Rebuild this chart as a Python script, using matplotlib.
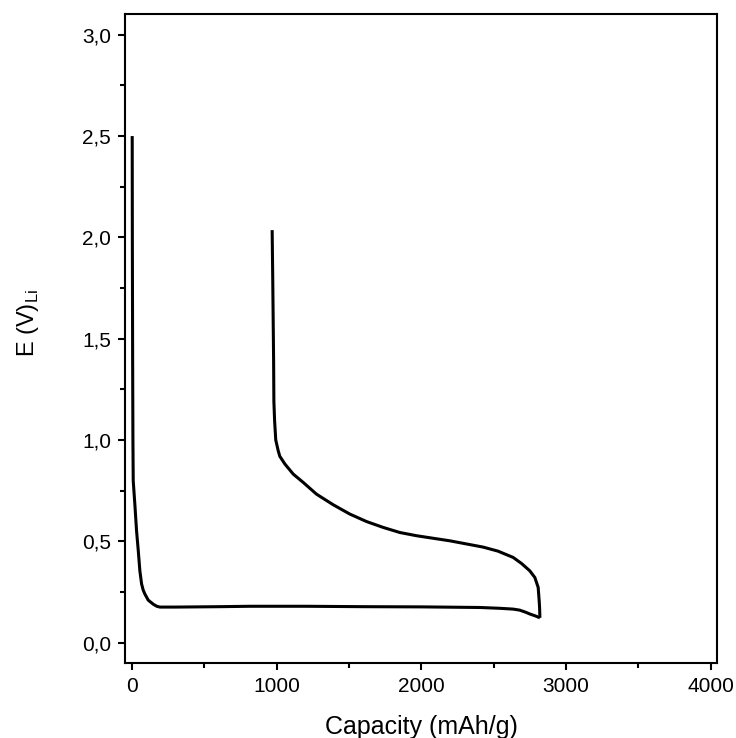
import matplotlib
matplotlib.use("Agg")
import matplotlib.pyplot as plt
from matplotlib.ticker import MultipleLocator, FuncFormatter

plt.rcParams['font.family'] = ['Liberation Sans', 'DejaVu Sans']

# discharge curve (capacity mAh/g, voltage V)
dis_cap = [0, 1, 3, 5, 7, 19, 30, 42, 53, 65, 76, 88, 111, 146, 170, 192, 300, 606, 815,
           1200, 1600, 2000, 2405, 2543, 2635, 2680, 2720, 2750, 2790, 2820]
dis_v = [2.50, 2.0, 1.4, 1.0, 0.80, 0.676, 0.553, 0.454, 0.355, 0.29, 0.26, 0.24, 0.21,
         0.19, 0.18, 0.176, 0.176, 0.178, 0.180, 0.180, 0.178, 0.177, 0.174, 0.170, 0.166,
         0.161, 0.151, 0.142, 0.132, 0.123]

# charge curve
ch_cap = [2820, 2818, 2815, 2808, 2785, 2750, 2693, 2635, 2530, 2427, 2197, 1967, 1851,
          1736, 1621, 1505, 1390, 1275, 1183, 1114, 1056, 1021, 1010, 993, 985, 980, 978,
          972, 968]
ch_v = [0.123, 0.17, 0.207, 0.273, 0.322, 0.355, 0.391, 0.421, 0.452, 0.472, 0.503, 0.528,
        0.544, 0.569, 0.598, 0.635, 0.681, 0.733, 0.791, 0.832, 0.882, 0.92, 0.947, 1.0,
        1.095, 1.19, 1.4, 1.8, 2.036]

fig = plt.figure(figsize=(7.36, 7.38), dpi=100)
ax = fig.add_axes([0.1698, 0.1016, 0.8044, 0.8788])

ax.plot(dis_cap, dis_v, color='black', lw=2.2, solid_joinstyle='round', solid_capstyle='butt')
ax.plot(ch_cap, ch_v, color='black', lw=2.2, solid_joinstyle='round', solid_capstyle='butt')

ax.set_xlim(-50, 4045)
ax.set_ylim(-0.1, 3.1)
ax.xaxis.set_major_locator(MultipleLocator(1000))
ax.xaxis.set_minor_locator(MultipleLocator(500))
ax.yaxis.set_major_locator(MultipleLocator(0.5))
ax.yaxis.set_minor_locator(MultipleLocator(0.25))
ax.yaxis.set_major_formatter(FuncFormatter(lambda v, p: ("%.1f" % v).replace('.', ',')))

for s in ax.spines.values():
    s.set_linewidth(1.5)
ax.tick_params(which='major', direction='out', length=5, width=1.5, labelsize=15, pad=5)
ax.tick_params(which='minor', direction='out', length=3.5, width=1.5)
ax.tick_params(top=False, right=False)

fig.text(0.572, 0.015, 'Capacity (mAh/g)', fontsize=18, ha='center', va='center')
fig.text(0.038, 0.562, 'E (V)$_{\\mathregular{Li}}$', fontsize=17, rotation=90,
         ha='center', va='center')

fig.savefig('out.png', dpi=100)
